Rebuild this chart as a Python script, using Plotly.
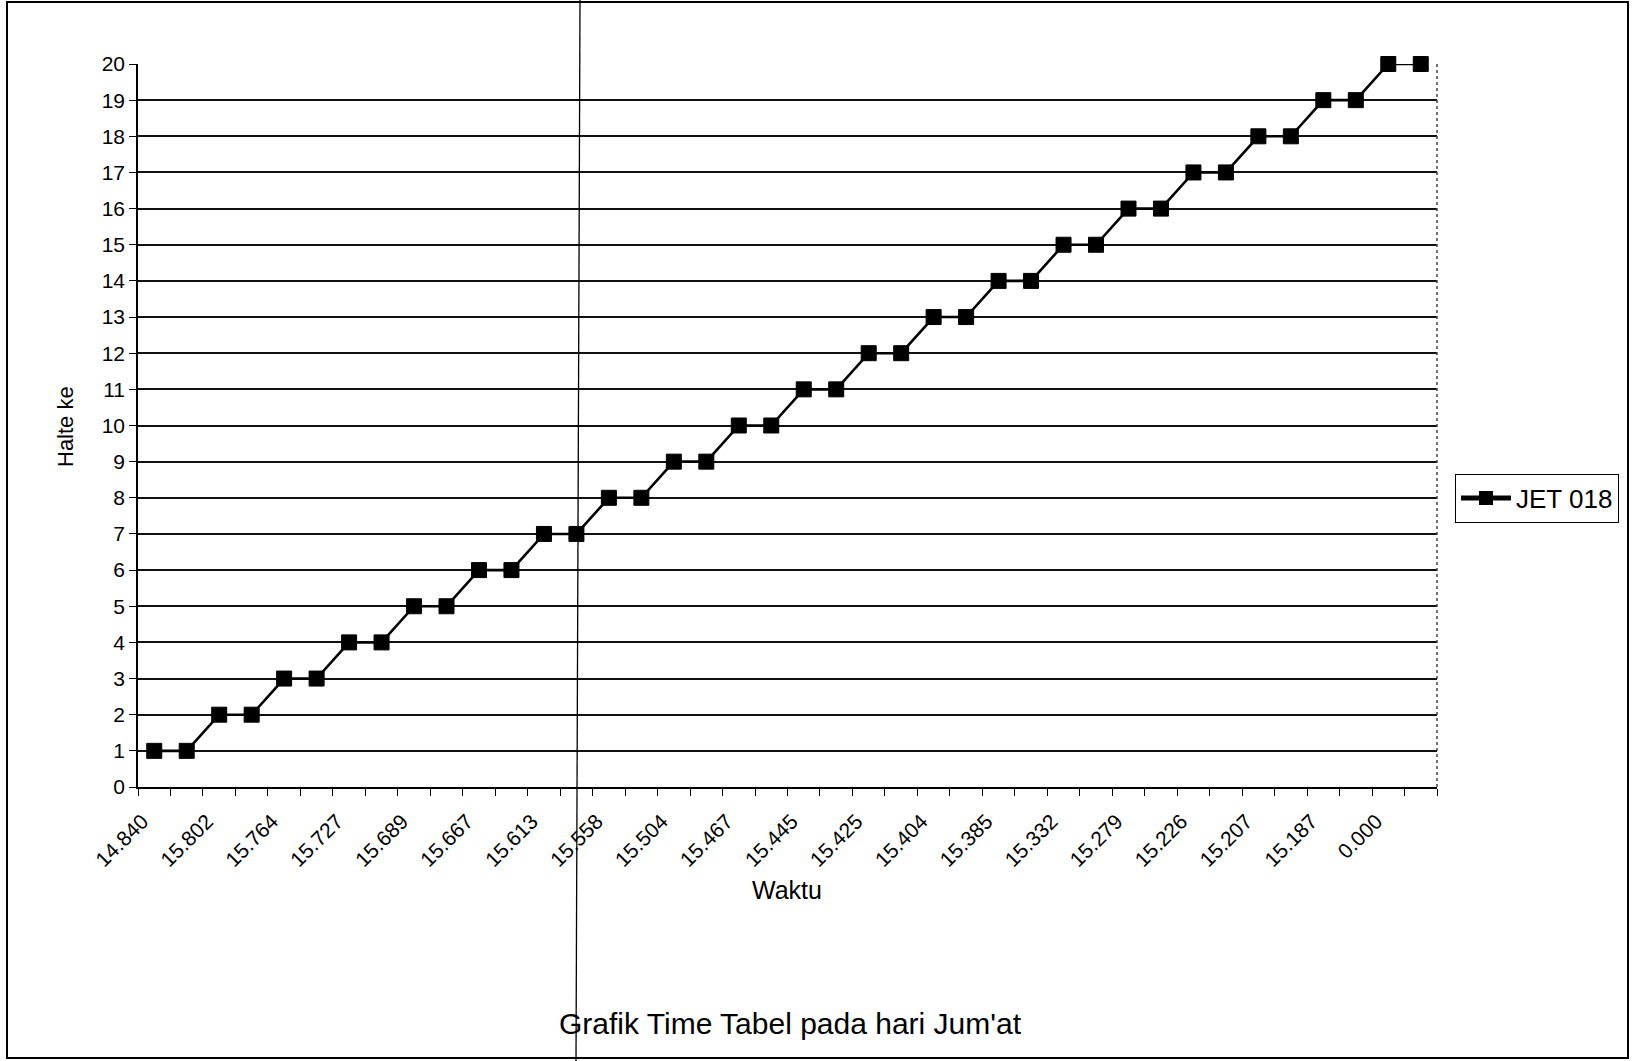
import plotly.graph_objects as go

# Halte reached by bus JET 018 at each recorded time step (Friday timetable)
halte = [1, 1, 2, 2, 3, 3, 4, 4, 5, 5,
         6, 6, 7, 7, 8, 8, 9, 9, 10, 10,
         11, 11, 12, 12, 13, 13, 14, 14, 15, 15,
         16, 16, 17, 17, 18, 18, 19, 19, 20, 20]

# Time labels printed under every second category
waktu_labels = ["14.840", "15.802", "15.764", "15.727", "15.689",
                "15.667", "15.613", "15.558", "15.504", "15.467",
                "15.445", "15.425", "15.404", "15.385", "15.332",
                "15.279", "15.226", "15.207", "15.187", "0.000"]

y_ticks = list(range(0, 21))
nama_seri = "JET 018"
judul = "Grafik Time Tabel pada hari Jum'at"
label_x = "Waktu"
label_y = "Halte ke"

FONT = "Liberation Sans, Arial, sans-serif"
W, H = 1632, 1061
ML, MR, MT, MB = 138, 195, 64, 274
PW, PH = W - ML - MR, H - MT - MB


def px(x):
    """Pixel column -> paper x."""
    return (x - ML) / PW


def py(y):
    """Pixel row -> paper y."""
    return (H - MB - y) / PH


urutan = list(range(1, len(halte) + 1))

fig = go.Figure()
fig.add_trace(go.Scatter(
    x=urutan, y=halte, name=nama_seri, mode="lines+markers",
    line=dict(color="black", width=2.6),
    marker=dict(symbol="square", size=15, color="black",
                line=dict(color="black", width=1)),
    cliponaxis=False,
    showlegend=True,
))

fig.update_layout(
    width=W, height=H,
    margin=dict(l=ML, r=MR, t=MT, b=MB, autoexpand=False),
    paper_bgcolor="white", plot_bgcolor="white",
    font=dict(family=FONT, color="black"),
    title=dict(text=judul, x=790 / W, xref="container", xanchor="center",
               y=1 - 1023 / H, yref="container", yanchor="middle",
               font=dict(size=30, family=FONT, color="black")),
    legend=dict(x=px(1455), y=py(498), xanchor="left", yanchor="middle",
                bordercolor="black", borderwidth=1, bgcolor="white",
                font=dict(size=26, family=FONT, color="black"),
                itemsizing="constant", itemwidth=50, tracegroupgap=0),
    showlegend=True,
)

fig.update_xaxes(
    range=[0.5, len(halte) + 0.5],
    tickmode="array", tickvals=urutan[::2], ticktext=waktu_labels,
    tickangle=-45, ticks="", ticklen=0,
    ticklabelstandoff=12, ticklabelshift=-12,
    tickfont=dict(size=21, family=FONT, color="black"),
    showgrid=False, zeroline=False,
    showline=True, linecolor="black", linewidth=1.6,
    minor=dict(ticks="outside", ticklen=7, tickcolor="black", tickwidth=1.3,
               tick0=0.5, dtick=1, showgrid=False),
)

fig.update_yaxes(
    range=[0, 20], tickmode="array", tickvals=y_ticks,
    ticks="outside", ticklen=7, tickcolor="black", tickwidth=1.3,
    tickfont=dict(size=21, family=FONT, color="black"),
    showgrid=True, gridcolor="#111111", gridwidth=1.5,
    zeroline=False, showline=True, linecolor="black", linewidth=1.6,
)

# Axis titles
fig.add_annotation(text=label_x, xref="paper", yref="paper",
                   x=px(787), y=py(890), showarrow=False,
                   xanchor="center", yanchor="middle",
                   font=dict(size=25, family=FONT, color="black"))
fig.add_annotation(text=label_y, xref="paper", yref="paper",
                   x=px(65), y=py(427), showarrow=False, textangle=-90,
                   xanchor="center", yanchor="middle",
                   font=dict(size=22, family=FONT, color="black"))

# Plot-area right edge (dotted) and outer chart frame
fig.add_shape(type="line", xref="paper", yref="paper",
              x0=1, x1=1, y0=0, y1=1,
              line=dict(color="#444", width=1.5, dash="dot"))
fig.add_shape(type="rect", xref="paper", yref="paper",
              x0=px(7), x1=px(1628), y0=py(1058), y1=py(2),
              line=dict(color="black", width=2), fillcolor="rgba(0,0,0,0)")
# Page fold line crossing the sheet
fig.add_shape(type="line", xref="paper", yref="paper",
              x0=px(580), x1=px(576), y0=py(0), y1=py(H),
              line=dict(color="black", width=1.3))

fig.write_html("out.html")
